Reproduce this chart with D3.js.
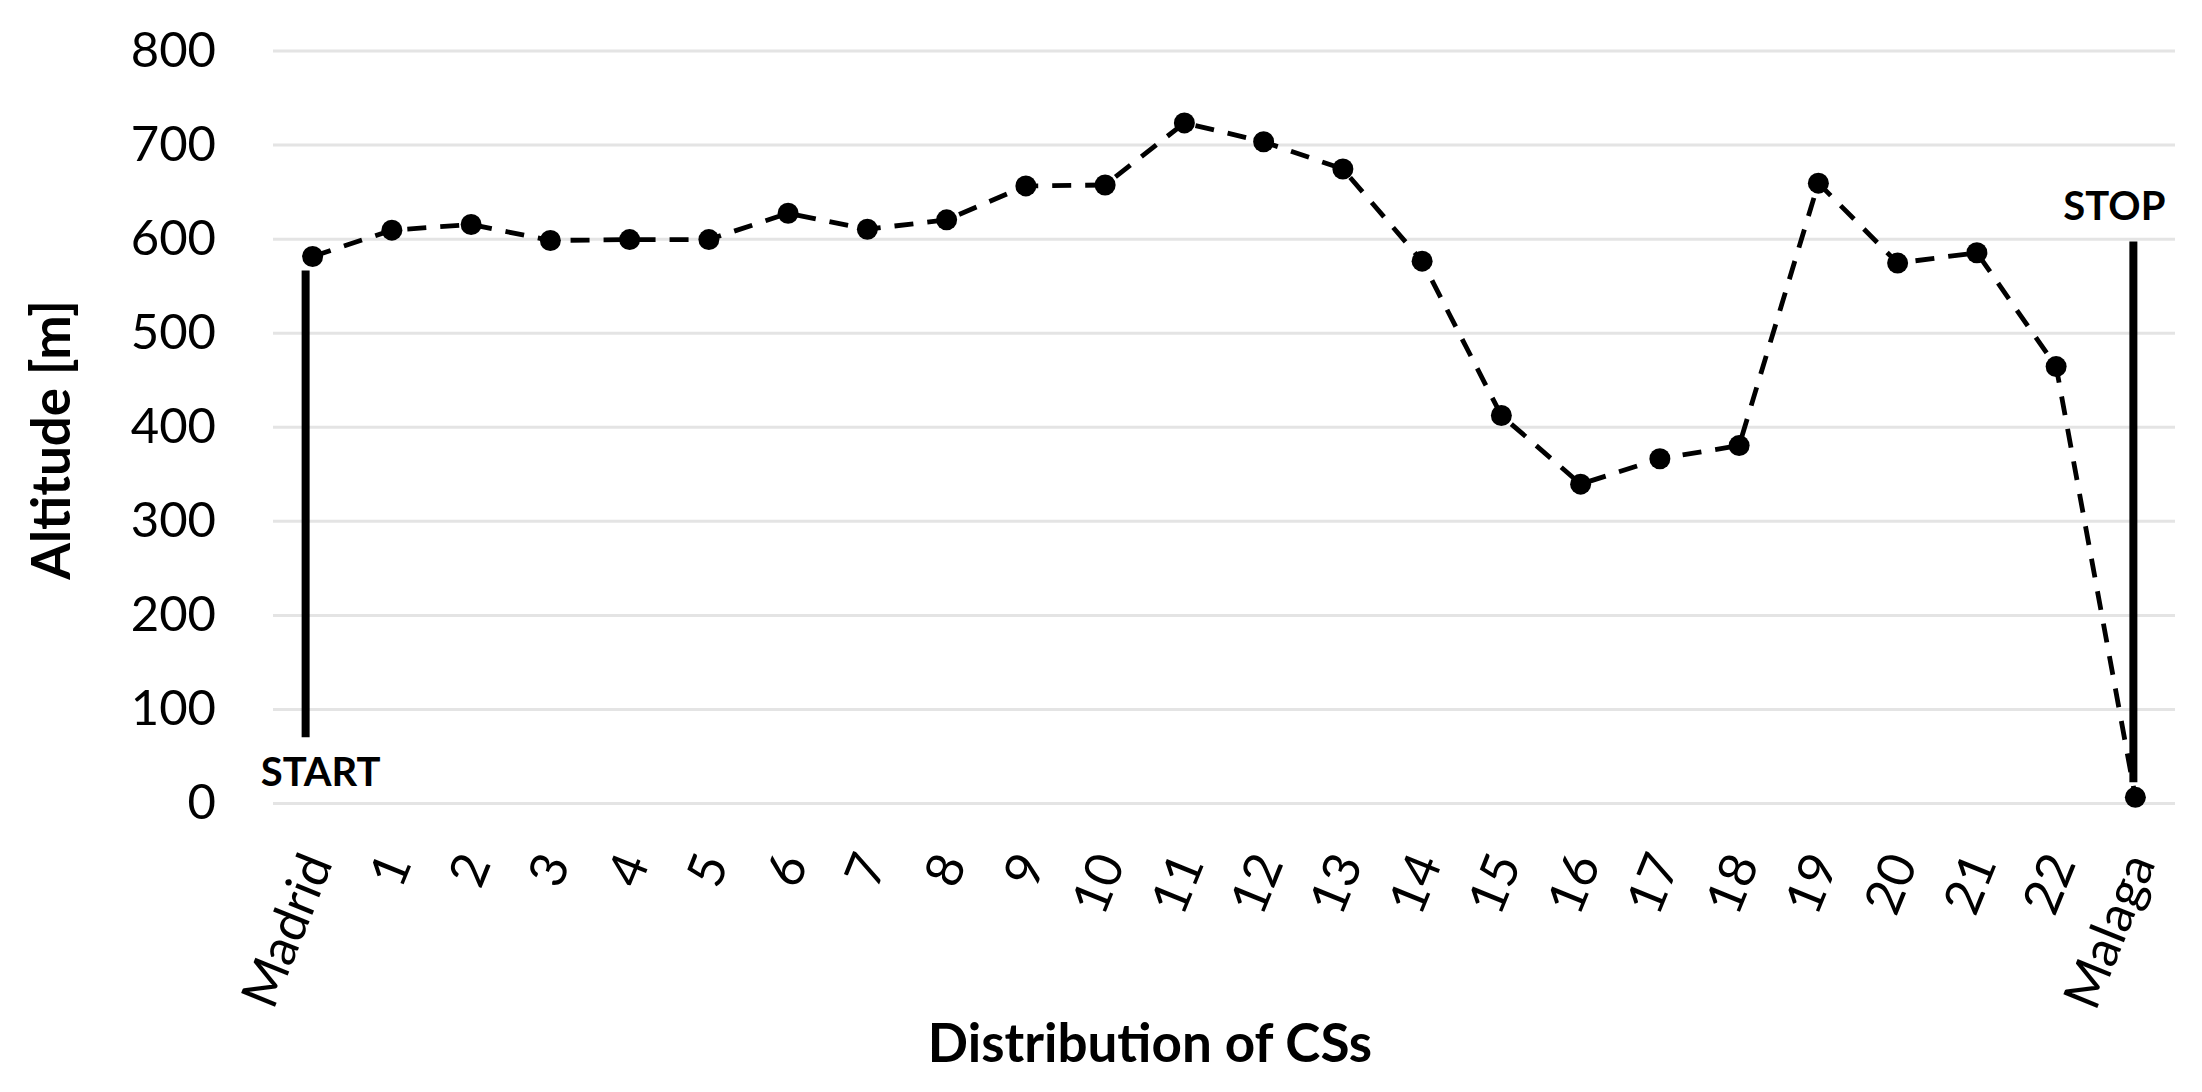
<!DOCTYPE html>
<html>
<head>
<meta charset="utf-8">
<script src="https://cdn.jsdelivr.net/npm/d3@7"></script>
<style>
  html, body { margin: 0; padding: 0; background: #fff; }
  svg { display: block; }
  text { font-family: Lato, "Open Sans", sans-serif; fill: #000; }
</style>
</head>
<body>
<script>
// ---- data ----
const categories = ["Madrid", "1", "2", "3", "4", "5", "6", "7", "8", "9", "10", "11",
  "12", "13", "14", "15", "16", "17", "18", "19", "20", "21", "22", "Malaga"];
const altitudes = [581, 609, 615, 598, 599, 599, 627, 610, 620, 656, 657, 723,
  703, 674, 576, 412, 339, 366, 380, 659, 574, 585, 464, 6];
const yTicks = [0, 100, 200, 300, 400, 500, 600, 700, 800];
const yTitle = "Altitude [m]";
const xTitle = "Distribution of CSs";
// start / stop markers: [category, label, from altitude, to altitude]
const startMark = ["Madrid", "START", 70, 566];
const stopMark = ["Malaga", "STOP", 22, 597];

// ---- layout ----
const W = 2202, H = 1092;
const plot = { left: 273, right: 2175, top: 50.5, bottom: 803 };

const svg = d3.select("body").append("svg").attr("width", W).attr("height", H);

const x = d3.scalePoint().domain(categories).range([plot.left, plot.right]).padding(0.5);
const y = d3.scaleLinear().domain([0, 800]).range([plot.bottom, plot.top]);

// gridlines
const yAxis = d3.axisLeft(y).tickValues(yTicks).tickSize(-(plot.right - plot.left)).tickPadding(57).tickFormat(d3.format("d"));
const gy = svg.append("g").attr("transform", `translate(${plot.left},0)`).call(yAxis);
gy.select(".domain").remove();
gy.selectAll(".tick line").attr("stroke", "#e4e4e4").attr("stroke-width", 3);
gy.selectAll(".tick text").attr("font-size", 49).attr("fill", "#000").attr("font-family", "Lato, sans-serif");

// x tick labels
const xAxis = d3.axisBottom(x).tickSize(0).tickPadding(0);
const gx = svg.append("g").attr("transform", `translate(0,${plot.bottom})`).call(xAxis);
gx.select(".domain").remove();
gx.selectAll(".tick text")
  .attr("font-size", 51)
  .attr("font-family", "Lato, sans-serif")
  .attr("fill", "#000")
  .attr("text-anchor", "end")
  .attr("y", 0).attr("dy", "0.36em")
  .attr("transform", "translate(3,53) rotate(-68)");

// START / STOP vertical bars
function mark(m, dx) {
  const cx = x(m[0]) + dx;
  svg.append("line")
    .attr("x1", cx).attr("x2", cx)
    .attr("y1", y(m[2])).attr("y2", y(m[3]))
    .attr("stroke", "#000").attr("stroke-width", 8);
}
mark(startMark, -7);
mark(stopMark, -2);

svg.append("text").attr("x", x(startMark[0]) + 8).attr("y", 786)
  .attr("text-anchor", "middle").attr("font-size", 40).attr("font-weight", 700)
  .text(startMark[1]);
svg.append("text").attr("x", x(stopMark[0]) - 21).attr("y", 220)
  .attr("text-anchor", "middle").attr("font-size", 40).attr("font-weight", 700)
  .text(stopMark[1]);

// dashed line
const line = d3.line().x((d, i) => x(categories[i])).y(d => y(d));
svg.append("path").datum(altitudes)
  .attr("d", line)
  .attr("fill", "none").attr("stroke", "#000").attr("stroke-width", 4.8)
  .attr("stroke-dasharray", "19 14");

// markers
svg.append("g").selectAll("circle").data(altitudes).join("circle")
  .attr("cx", (d, i) => x(categories[i]))
  .attr("cy", d => y(d))
  .attr("r", 10.5)
  .attr("fill", "#000");

// axis titles
svg.append("text")
  .attr("transform", `translate(70,440) rotate(-90)`)
  .attr("text-anchor", "middle").attr("font-size", 53).attr("font-weight", 700)
  .text(yTitle);
svg.append("text")
  .attr("x", 1150).attr("y", 1062)
  .attr("text-anchor", "middle").attr("font-size", 53).attr("font-weight", 700)
  .text(xTitle);
</script>
</body>
</html>
